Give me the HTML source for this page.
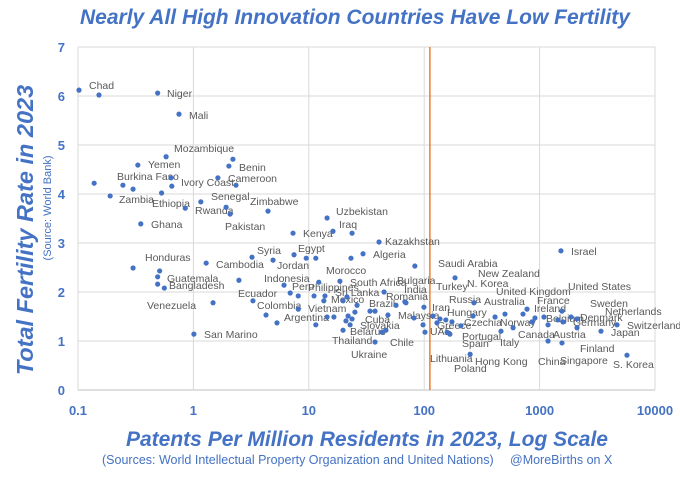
<!DOCTYPE html>
<html><head><meta charset="utf-8">
<style>
body{margin:0;background:#fff;width:680px;height:474px;overflow:hidden;font-family:"Liberation Sans",sans-serif}
svg text{font-family:"Liberation Sans",sans-serif}
.lbl{font-size:10.5px;fill:#595959}
</style></head>
<body>
<svg id="chart" width="680" height="474" viewBox="0 0 680 474">
<text x="355" y="24" text-anchor="middle" font-size="21" font-weight="bold" font-style="italic" fill="#4472C4">Nearly All High Innovation Countries Have Low Fertility</text>
<text transform="translate(33,230) rotate(-90)" text-anchor="middle" font-size="23.5" font-weight="bold" font-style="italic" fill="#4472C4">Total Fertility Rate in 2023</text>
<text transform="translate(51,208) rotate(-90)" text-anchor="middle" font-size="11" fill="#4472C4">(Source: World Bank)</text>
<text x="367" y="446" text-anchor="middle" font-size="21" font-weight="bold" font-style="italic" fill="#4472C4">Patents Per Million Residents in 2023, Log Scale</text>
<text x="102" y="464" font-size="12.5" fill="#4472C4">(Sources: World Intellectual Property Organization and United Nations)</text>
<text x="510" y="464" font-size="12.5" fill="#4472C4">@MoreBirths on X</text>
<g id="grid"></g><g id="ticks"></g><g id="labels"></g><g id="pts"></g>
</svg>
<script>
const xTicks=[0.1,1,10,100,1000,10000];
const xTickLabels=["0.1","1","10","100","1000","10000"];
const yTicks=[0,1,2,3,4,5,6,7];
const refLine=112;
const xVals=[0.102,0.152,0.49,0.75,0.58,0.33,2.2,2.03,0.138,0.245,0.30,0.64,0.65,1.63,2.34,0.19,0.53,0.85,1.16,1.92,2.08,4.43,0.35,7.3,14.4,16.2,23.7,40.6,3.22,7.45,9.5,11.5,4.9,29.5,23.2,1.29,83,12.2,18.6,6.1,6.9,8.1,11.1,13.8,13.5,21.4,44.9,3.28,8.1,1.48,19.8,26.2,33.9,37.5,57,68,4.26,5.3,14.4,16.5,21.9,23.7,25.1,21,22.8,19.8,11.5,48.5,43,46.6,37.5,1.01,99.5,81.6,97.7,101.6,69.5,119,137,154,174,129,167,208,158,250,270,265,185,411,501,463,589,718,778,859,912,1091,1183,1183,1563,1443,1594,1871,2109,2109,1563,3404,4688,5717,1531,0.30,0.51,0.49,0.49,0.56,2.48];
const yVals=[6.12,6.02,6.06,5.63,4.76,4.59,4.71,4.57,4.22,4.18,4.10,4.33,4.16,4.33,4.18,3.96,4.02,3.71,3.84,3.73,3.59,3.65,3.39,3.2,3.51,3.24,3.2,3.02,2.71,2.76,2.69,2.69,2.65,2.78,2.69,2.59,2.53,2.2,2.22,2.14,1.98,1.92,1.92,1.92,1.82,1.9,2.0,1.82,1.65,1.78,1.82,1.73,1.61,1.61,1.73,1.8,1.53,1.37,1.49,1.49,1.51,1.45,1.59,1.41,1.33,1.22,1.33,1.53,1.18,1.22,0.98,1.14,1.69,1.47,1.33,1.18,1.78,1.51,1.45,1.43,1.39,1.37,1.14,1.31,1.18,0.73,1.78,1.51,2.29,1.49,1.55,1.2,1.27,1.55,1.65,1.39,1.47,1.49,1.33,1.0,1.61,1.43,1.39,1.49,1.45,1.27,0.96,1.2,1.33,0.71,2.84,2.49,2.43,2.31,2.16,2.08,2.24];
const labelNames=["Chad","Niger","Mali","Mozambique","Yemen","Benin","Burkina Faso","Ivory Coast","Cameroon","Zambia","Ethiopia","Senegal","Rwanda","Zimbabwe","Pakistan","Ghana","Kenya","Uzbekistan","Iraq","Kazakhstan","Syria","Egypt","Jordan","Algeria","Cambodia","Honduras","Guatemala","Bangladesh","Venezuela","Indonesia","Morocco","South Africa","Bulgaria","India","Peru","Philippines","Sri Lanka","Ecuador","Romania","Mexico","Brazil","Colombia","Vietnam","Malaysia","Argentina","Cuba","Slovakia","Belarus","Thailand","Chile","Ukraine","San Marino","Saudi Arabia","New Zealand","Turkey","N. Korea","Russia","Iran","Australia","United Kingdom","France","United States","Sweden","Ireland","Hungary","Netherlands","Denmark","Belgium","Czechia","Greece","Norway","Germany","Switzerland","UAE","Portugal","Canada","Austria","Japan","Spain","Italy","Finland","Lithuania","Hong Kong","China","Singapore","S. Korea","Poland","Israel"];
const LP=[[89,89],[167,97],[189,119],[174,152],[148,168],[239,171],[117,180],[181,186],[228,182],[119,203],[152,207],[211,200],[195,214],[250,205],[225,230],[151,228],[303,237],[336,215],[339,228],[385,245],[257,254],[298,252],[277,269],[373,258],[216,268],[145,261],[167,282],[169,289],[147,309],[264,282],[326,274],[350,286],[397,284],[404,293],[292,290],[308,291],[335,296],[238,297],[386,300],[331,303],[369,307],[257,309],[308,312],[398,319],[284,321],[365,323],[360,329],[350,335],[332,344],[390,346],[351,358],[204,338],[438,267],[478,277],[436,290],[467,287],[449,303],[432,311],[484,305],[496,295],[537,304],[568,290],[590,307],[534,312],[447,316],[605,315],[580,321],[546,322],[464,326],[437,329],[500,326],[573,326],[627,329],[430,335],[462,340],[518,338],[553,338],[611,336],[462,347],[500,346],[580,352],[430,362],[475,365],[538,365],[560,364],[613,368],[454,372],[571,255]];
const X0=78,X1=655,Y0=390,Y1=47;
const xs=v=>X0+(Math.log10(v)+1)/5*(X1-X0);
const ys=v=>Y0-v/7*(Y0-Y1);
const NS="http://www.w3.org/2000/svg";
function mk(t,a,p){const e=document.createElementNS(NS,t);for(const k in a)e.setAttribute(k,a[k]);p.appendChild(e);return e;}
const grid=document.getElementById('grid'),ticks=document.getElementById('ticks'),labels=document.getElementById('labels'),pts=document.getElementById('pts');
yTicks.forEach(v=>{
 const l=mk('line',{x1:X0,x2:X1,y1:ys(v),y2:ys(v),stroke:v===0?'#bfbfbf':'#d9d9d9','stroke-width':1},grid);
 
 
 const t=mk('text',{x:65,y:ys(v)+5,'text-anchor':'end','font-size':13,'font-weight':'bold',fill:'#4472C4'},ticks);
 t.textContent=v;
 
 
});
xTicks.forEach((v,i)=>{
 const l=mk('line',{x1:xs(v),x2:xs(v),y1:Y1,y2:Y0,stroke:'#d9d9d9','stroke-width':1},grid);
 
 
 const t=mk('text',{x:xs(v),y:415,'text-anchor':'middle','font-size':13,'font-weight':'bold',fill:'#4472C4'},ticks);
 t.textContent=xTickLabels[i];
 
 
});
const rl=mk('line',{x1:xs(refLine),x2:xs(refLine),y1:Y1,y2:Y0,stroke:'#ED7D31','stroke-width':1.5},grid);


labelNames.forEach((n,i)=>{
 const t=mk('text',{x:LP[i][0],y:LP[i][1],class:'lbl'},labels);
 t.textContent=n;
 
 
});
xVals.forEach((v,i)=>{
 const c=mk('circle',{cx:xs(v),cy:ys(yVals[i]),r:2.6,fill:'#4472C4'},pts);
 
 
});
</script>
</body></html>
